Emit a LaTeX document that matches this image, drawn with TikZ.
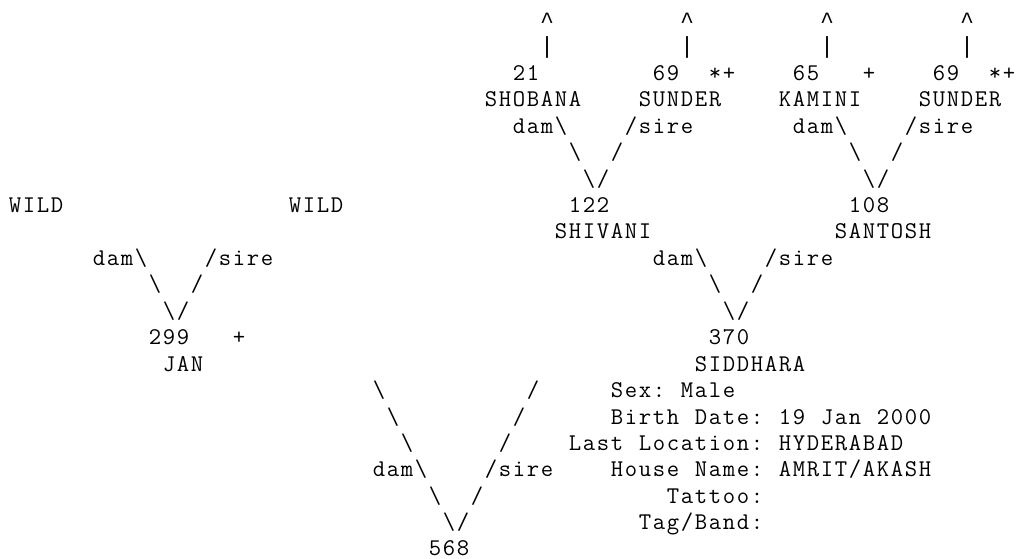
\documentclass[tikz,border=0pt]{standalone}
\usepackage{fontspec}
\newfontfamily\symfont{Liberation Mono}
\makeatletter
\newcommand\monostr[1]{\@tfor\mch:=#1\do{\makebox[14pt][c]{\mch}}}
\makeatother
\newcommand\bs{\textbackslash}
\newcommand\cc{{\symfont\fontsize{23.3}{28}\selectfont\textasciicircum}}
\newcommand\vb{{\symfont\fontsize{23.3}{28}\selectfont|}}
\tikzset{txt/.style={anchor=base west, inner sep=0pt, outer sep=0pt, font=\fontsize{24}{28}\selectfont\ttfamily}}
\begin{document}
\begin{tikzpicture}[x=1pt,y=1pt]
\fill[white] (0,0) rectangle (1019,-558);
\useasboundingbox (0,0) rectangle (1019,-558);
% row 0
\node[txt] (car1) at ({8+14*38},-28.5) {\monostr{\cc}};
\node[txt] (car2) at ({8+14*48},-28.5) {\monostr{\cc}};
\node[txt] (car3) at ({8+14*58},-28.5) {\monostr{\cc}};
\node[txt] (car4) at ({8+14*68},-28.5) {\monostr{\cc}};
% row 1
\node[txt] (bar1) at ({8+14*38},-53.75) {\monostr{\vb}};
\node[txt] (bar2) at ({8+14*48},-53.75) {\monostr{\vb}};
\node[txt] (bar3) at ({8+14*58},-53.75) {\monostr{\vb}};
\node[txt] (bar4) at ({8+14*68},-53.75) {\monostr{\vb}};
% row 2
\node[txt] (n21) at ({8+14*36},-80.2) {\monostr{21}};
\node[txt] (n69a) at ({8+14*46},-80.2) {\monostr{69}};
\node[txt] (st1) at ({8+14*50},-80.2) {\monostr{*+}};
\node[txt] (n65) at ({8+14*56},-80.2) {\monostr{65}};
\node[txt] (pl1) at ({8+14*61},-80.2) {\monostr{+}};
\node[txt] (n69b) at ({8+14*66},-80.2) {\monostr{69}};
\node[txt] (st2) at ({8+14*70},-80.2) {\monostr{*+}};
% row 3
\node[txt] (shobana) at ({8+14*34},-106.65) {\monostr{SHOBANA}};
\node[txt] (sunder1) at ({8+14*45},-106.65) {\monostr{SUNDER}};
\node[txt] (kamini) at ({8+14*55},-106.65) {\monostr{KAMINI}};
\node[txt] (sunder2) at ({8+14*65},-106.65) {\monostr{SUNDER}};
% row 4
\node[txt] (dam1) at ({8+14*36},-133.1) {\monostr{dam\bs}};
\node[txt] (sire1) at ({8+14*44},-133.1) {\monostr{/sire}};
\node[txt] (dam2) at ({8+14*56},-133.1) {\monostr{dam\bs}};
\node[txt] (sire2) at ({8+14*64},-133.1) {\monostr{/sire}};
% row 5
\node[txt] (l1a) at ({8+14*40},-159.55) {\monostr{\bs}};
\node[txt] (r1a) at ({8+14*43},-159.55) {\monostr{/}};
\node[txt] (l2a) at ({8+14*60},-159.55) {\monostr{\bs}};
\node[txt] (r2a) at ({8+14*63},-159.55) {\monostr{/}};
% row 6
\node[txt] (v1) at ({8+14*41},-186.0) {\monostr{\bs/}};
\node[txt] (v2) at ({8+14*61},-186.0) {\monostr{\bs/}};
% row 7
\node[txt] (wild1) at ({8+14*0},-212.45) {\monostr{WILD}};
\node[txt] (wild2) at ({8+14*20},-212.45) {\monostr{WILD}};
\node[txt] (n122) at ({8+14*40},-212.45) {\monostr{122}};
\node[txt] (n108) at ({8+14*60},-212.45) {\monostr{108}};
% row 8
\node[txt] (shivani) at ({8+14*39},-238.9) {\monostr{SHIVANI}};
\node[txt] (santosh) at ({8+14*59},-238.9) {\monostr{SANTOSH}};
% row 9
\node[txt] (dam3) at ({8+14*6},-265.35) {\monostr{dam\bs}};
\node[txt] (sire3) at ({8+14*14},-265.35) {\monostr{/sire}};
\node[txt] (dam4) at ({8+14*46},-265.35) {\monostr{dam\bs}};
\node[txt] (sire4) at ({8+14*54},-265.35) {\monostr{/sire}};
% row 10
\node[txt] (l3a) at ({8+14*10},-291.8) {\monostr{\bs}};
\node[txt] (r3a) at ({8+14*13},-291.8) {\monostr{/}};
\node[txt] (l4a) at ({8+14*50},-291.8) {\monostr{\bs}};
\node[txt] (r4a) at ({8+14*53},-291.8) {\monostr{/}};
% row 11
\node[txt] (v3) at ({8+14*11},-318.25) {\monostr{\bs/}};
\node[txt] (v4) at ({8+14*51},-318.25) {\monostr{\bs/}};
% row 12
\node[txt] (n299) at ({8+14*10},-344.7) {\monostr{299}};
\node[txt] (pl2) at ({8+14*16},-344.7) {\monostr{+}};
\node[txt] (n370) at ({8+14*50},-344.7) {\monostr{370}};
% row 13
\node[txt] (jan) at ({8+14*11},-371.15) {\monostr{JAN}};
\node[txt] (siddhara) at ({8+14*49},-371.15) {\monostr{SIDDHARA}};
% row 14
\node[txt] (l5a) at ({8+14*26},-397.6) {\monostr{\bs}};
\node[txt] (r5a) at ({8+14*37},-397.6) {\monostr{/}};
\node[txt] (sex) at ({8+14*43},-397.6) {\monostr{Sex:~Male}};
% row 15
\node[txt] (l5b) at ({8+14*27},-424.05) {\monostr{\bs}};
\node[txt] (r5b) at ({8+14*36},-424.05) {\monostr{/}};
\node[txt] (birth) at ({8+14*43},-424.05) {\monostr{Birth~Date:~19~Jan~2000}};
% row 16
\node[txt] (l5c) at ({8+14*28},-450.5) {\monostr{\bs}};
\node[txt] (r5c) at ({8+14*35},-450.5) {\monostr{/}};
\node[txt] (loc) at ({8+14*40},-450.5) {\monostr{Last~Location:~HYDERABAD}};
% row 17
\node[txt] (dam5) at ({8+14*26},-476.95) {\monostr{dam\bs}};
\node[txt] (sire5) at ({8+14*34},-476.95) {\monostr{/sire}};
\node[txt] (house) at ({8+14*43},-476.95) {\monostr{House~Name:~AMRIT/AKASH}};
% row 18
\node[txt] (l5d) at ({8+14*30},-503.4) {\monostr{\bs}};
\node[txt] (r5d) at ({8+14*33},-503.4) {\monostr{/}};
\node[txt] (tattoo) at ({8+14*47},-503.4) {\monostr{Tattoo:}};
% row 19
\node[txt] (v5) at ({8+14*31},-529.85) {\monostr{\bs/}};
\node[txt] (tag) at ({8+14*45},-529.85) {\monostr{Tag/Band:}};
% row 20
\node[txt] (n568) at ({8+14*30},-555.5) {\monostr{568}};
\end{tikzpicture}
\end{document}
